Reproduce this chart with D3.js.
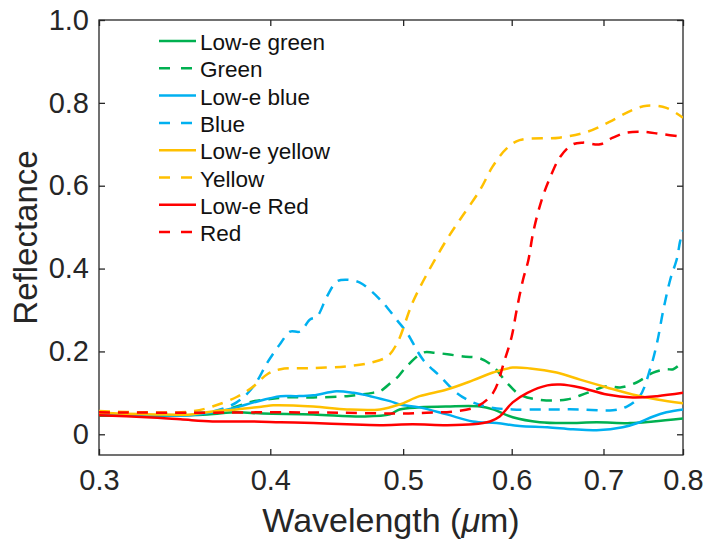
<!DOCTYPE html>
<html>
<head>
<meta charset="utf-8">
<script src="https://cdn.jsdelivr.net/npm/d3@7"></script>
<style>
  body { margin: 0; background: #fff; }
  svg { font-family: "Liberation Sans", Arial, sans-serif; }
  .axis path, .axis line { stroke: #262626; stroke-width: 1.3; }
  .axis text { fill: #262626; font-size: 29px; }
</style>
</head>
<body>
<div id="chart"></div>
<script>
// wavelength (um), reflectance pairs
var lowEGreen = [[0.30,0.045],[0.33,0.045],[0.36,0.048],[0.378,0.053],[0.395,0.05],[0.43,0.048],[0.467,0.043],[0.489,0.048],[0.497,0.06],[0.514,0.065],[0.538,0.067],[0.569,0.067],[0.5815,0.06],[0.601,0.041],[0.629,0.029],[0.658,0.027],[0.692,0.029],[0.732,0.027],[0.761,0.031],[0.80,0.038]];
var green = [[0.30,0.05],[0.34,0.05],[0.365,0.055],[0.378,0.067],[0.389,0.08],[0.398,0.084],[0.411,0.089],[0.43,0.089],[0.455,0.092],[0.475,0.10],[0.481,0.104],[0.49,0.125],[0.496,0.14],[0.503,0.164],[0.517,0.197],[0.526,0.197],[0.553,0.188],[0.569,0.183],[0.5815,0.164],[0.595,0.125],[0.608,0.096],[0.626,0.084],[0.658,0.084],[0.681,0.10],[0.704,0.116],[0.72,0.113],[0.74,0.125],[0.761,0.149],[0.778,0.157],[0.787,0.157],[0.80,0.176]];
var lowEBlue = [[0.30,0.048],[0.33,0.046],[0.35,0.046],[0.363,0.053],[0.378,0.065],[0.389,0.077],[0.407,0.092],[0.418,0.092],[0.43,0.094],[0.447,0.104],[0.46,0.10],[0.473,0.092],[0.489,0.08],[0.497,0.072],[0.514,0.065],[0.538,0.048],[0.562,0.031],[0.585,0.027],[0.608,0.02],[0.637,0.017],[0.665,0.012],[0.692,0.01],[0.723,0.017],[0.744,0.029],[0.761,0.043],[0.778,0.053],[0.80,0.06]];
var blue = [[0.30,0.05],[0.34,0.05],[0.363,0.055],[0.378,0.077],[0.389,0.116],[0.398,0.173],[0.407,0.22],[0.4135,0.248],[0.4205,0.248],[0.4276,0.277],[0.4326,0.284],[0.44,0.333],[0.4474,0.369],[0.455,0.373],[0.465,0.366],[0.4753,0.342],[0.481,0.325],[0.487,0.305],[0.495,0.275],[0.503,0.246],[0.517,0.18],[0.532,0.14],[0.547,0.10],[0.562,0.077],[0.5785,0.065],[0.601,0.06],[0.637,0.06],[0.673,0.06],[0.711,0.058],[0.728,0.067],[0.744,0.092],[0.757,0.157],[0.766,0.222],[0.774,0.30],[0.783,0.373],[0.792,0.425],[0.796,0.465],[0.80,0.492]];
var lowEYellow = [[0.30,0.052],[0.33,0.048],[0.35,0.048],[0.363,0.055],[0.378,0.06],[0.395,0.067],[0.402,0.07],[0.43,0.067],[0.455,0.06],[0.481,0.06],[0.497,0.072],[0.514,0.092],[0.538,0.108],[0.562,0.13],[0.5815,0.149],[0.601,0.161],[0.619,0.159],[0.647,0.149],[0.673,0.132],[0.704,0.113],[0.735,0.096],[0.766,0.084],[0.80,0.075]];
var yellow = [[0.30,0.056],[0.325,0.053],[0.35,0.055],[0.363,0.067],[0.378,0.09],[0.389,0.116],[0.398,0.145],[0.407,0.157],[0.43,0.16],[0.455,0.164],[0.475,0.174],[0.487,0.188],[0.495,0.22],[0.508,0.318],[0.521,0.39],[0.538,0.47],[0.55,0.518],[0.569,0.59],[0.581,0.646],[0.595,0.69],[0.608,0.71],[0.65,0.716],[0.681,0.73],[0.707,0.754],[0.735,0.783],[0.753,0.793],[0.778,0.788],[0.80,0.764]];
var lowERed = [[0.30,0.046],[0.325,0.041],[0.344,0.036],[0.363,0.031],[0.385,0.031],[0.407,0.029],[0.43,0.027],[0.455,0.024],[0.481,0.022],[0.508,0.024],[0.538,0.022],[0.562,0.024],[0.5785,0.031],[0.588,0.043],[0.601,0.077],[0.616,0.10],[0.637,0.118],[0.651,0.12],[0.673,0.113],[0.704,0.096],[0.735,0.089],[0.766,0.092],[0.80,0.10]];
var red = [[0.30,0.053],[0.35,0.052],[0.40,0.053],[0.45,0.052],[0.50,0.05],[0.52,0.052],[0.544,0.055],[0.566,0.067],[0.5815,0.10],[0.593,0.18],[0.60,0.236],[0.605,0.30],[0.6115,0.373],[0.617,0.42],[0.622,0.487],[0.631,0.566],[0.64,0.62],[0.651,0.67],[0.665,0.70],[0.676,0.704],[0.696,0.70],[0.711,0.716],[0.728,0.728],[0.748,0.73],[0.77,0.725],[0.80,0.718]];

var seriesNames = ["Low-e green", "Green", "Low-e blue", "Blue", "Low-e yellow", "Yellow", "Low-e Red", "Red"];
var seriesData = [lowEGreen, green, lowEBlue, blue, lowEYellow, yellow, lowERed, red];
var xTicks = [0.3, 0.4, 0.5, 0.6, 0.7, 0.8];
var yTicks = [0, 0.2, 0.4, 0.6, 0.8, 1.0];

var colors = ["#00b050", "#00b050", "#00b0f0", "#00b0f0", "#ffc000", "#ffc000", "#ff0000", "#ff0000"];

var svgWidth = 709, svgHeight = 548;
var margin = { top: 20, right: 26, bottom: 93, left: 99 };
var chartWidth = svgWidth - margin.left - margin.right;
var chartHeight = svgHeight - margin.top - margin.bottom;

var svg = d3.select("#chart").append("svg")
  .attr("width", svgWidth)
  .attr("height", svgHeight);

var chartGroup = svg.append("g")
  .attr("transform", `translate(${margin.left}, ${margin.top})`);

var xScale = d3.scaleLog().domain([0.3, 0.8]).range([0, chartWidth]);
var yScale = d3.scaleLinear().domain([-0.05, 1.0]).range([chartHeight, 0]);

var yFormat = d => d === 0 ? "0" : d3.format(".1f")(d);

// axes, ticks pointing inward
chartGroup.append("g")
  .attr("class", "axis")
  .attr("transform", `translate(0, ${chartHeight})`)
  .call(d3.axisBottom(xScale).tickValues(xTicks).tickFormat(d3.format(".1f")).tickSizeInner(-6).tickSizeOuter(0).tickPadding(14));

chartGroup.append("g")
  .attr("class", "axis")
  .call(d3.axisTop(xScale).tickValues(xTicks).tickFormat("").tickSizeInner(-6).tickSizeOuter(0));

chartGroup.append("g")
  .attr("class", "axis")
  .call(d3.axisLeft(yScale).tickValues(yTicks).tickFormat(yFormat).tickSizeInner(-6).tickSizeOuter(0).tickPadding(10));

chartGroup.append("g")
  .attr("class", "axis")
  .attr("transform", `translate(${chartWidth}, 0)`)
  .call(d3.axisRight(yScale).tickValues(yTicks).tickFormat("").tickSizeInner(-6).tickSizeOuter(0));

chartGroup.selectAll(".axis .domain").remove();
chartGroup.append("rect")
  .attr("width", chartWidth)
  .attr("height", chartHeight)
  .attr("fill", "none")
  .attr("stroke", "#262626")
  .attr("stroke-width", 1.3);

// clip lines to plot area
svg.append("defs").append("clipPath").attr("id", "plotClip")
  .append("rect").attr("width", chartWidth).attr("height", chartHeight);

var line = d3.line()
  .x(d => xScale(d[0]))
  .y(d => yScale(d[1]))
  .curve(d3.curveCatmullRom.alpha(0.5));

var linesGroup = chartGroup.append("g").attr("clip-path", "url(#plotClip)");

linesGroup.selectAll(".curve")
  .data(seriesData)
  .enter()
  .append("path")
  .attr("class", "curve")
  .attr("d", d => line(d))
  .attr("fill", "none")
  .attr("stroke", (d, i) => colors[i])
  .attr("stroke-width", 2.5)
  .attr("stroke-dasharray", (d, i) => i % 2 === 1 ? "11,8" : null);

// legend, no box
var legend = svg.append("g");
var legendRows = legend.selectAll(".legendRow")
  .data(seriesNames)
  .enter()
  .append("g")
  .attr("transform", (d, i) => `translate(159, ${41 + i * 27.3})`);

legendRows.append("line")
  .attr("x1", 0).attr("x2", 37)
  .attr("stroke", (d, i) => colors[i])
  .attr("stroke-width", 2.5)
  .attr("stroke-dasharray", (d, i) => i % 2 === 1 ? "11,11" : null);

legendRows.append("text")
  .attr("x", 41)
  .attr("y", 9)
  .attr("font-size", 22.5)
  .attr("fill", "#111")
  .text(d => d);

// axis labels
svg.append("text")
  .attr("transform", `translate(37, ${margin.top + chartHeight / 2}) rotate(-90)`)
  .attr("text-anchor", "middle")
  .attr("font-size", 33)
  .attr("fill", "#262626")
  .text("Reflectance");

var xLabel = svg.append("text")
  .attr("x", margin.left + chartWidth / 2)
  .attr("y", 532)
  .attr("text-anchor", "middle")
  .attr("font-size", 34)
  .attr("fill", "#262626");
xLabel.append("tspan").text("Wavelength (");
xLabel.append("tspan").attr("font-style", "italic").text("μ");
xLabel.append("tspan").text("m)");
</script>
</body>
</html>
